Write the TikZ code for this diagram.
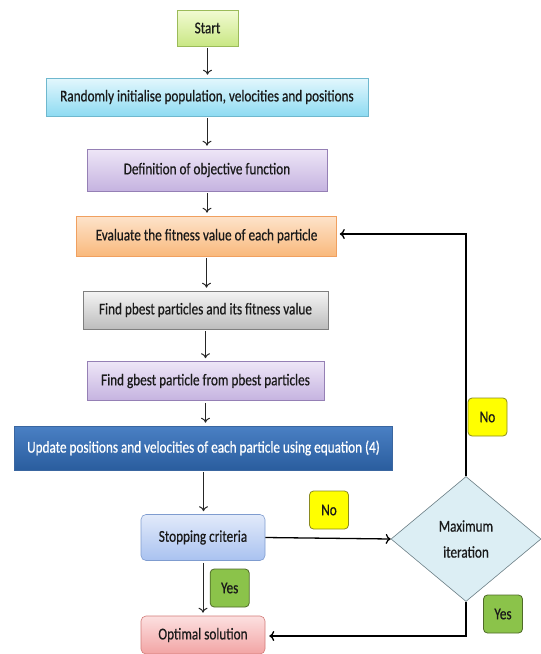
\documentclass[tikz,border=0pt]{standalone}
\usepackage{fontspec}
\setmainfont{Carlito}[FakeStretch=0.8,FakeBold=0.6]
\usetikzlibrary{shapes.geometric,arrows.meta,positioning}

\definecolor{grnL}{HTML}{F2FBD3}
\definecolor{grnD}{HTML}{C9E784}
\definecolor{grnB}{HTML}{9BBB59}
\definecolor{cyaL}{HTML}{E3F7FD}
\definecolor{cyaD}{HTML}{8EDBF2}
\definecolor{cyaB}{HTML}{6FB8CE}
\definecolor{purL}{HTML}{EEE6F7}
\definecolor{purD}{HTML}{C5B3E0}
\definecolor{purB}{HTML}{9580B5}
\definecolor{orgL}{HTML}{FDE3CB}
\definecolor{orgD}{HTML}{F9B97C}
\definecolor{orgB}{HTML}{F0A060}
\definecolor{gryL}{HTML}{F4F4F4}
\definecolor{gryD}{HTML}{BDBDBD}
\definecolor{gryB}{HTML}{7F7F7F}
\definecolor{bluL}{HTML}{4A80C4}
\definecolor{bluD}{HTML}{2A5D9E}
\definecolor{bluB}{HTML}{3A66A0}
\definecolor{lbuL}{HTML}{E2EAFA}
\definecolor{lbuD}{HTML}{A9C2F0}
\definecolor{lbuB}{HTML}{7F9CCF}
\definecolor{pnkL}{HTML}{FCE0E0}
\definecolor{pnkD}{HTML}{F2A4A4}
\definecolor{pnkB}{HTML}{D27A78}
\definecolor{dmdF}{HTML}{DCEEF4}
\definecolor{dmdB}{HTML}{6A7D84}
\definecolor{yesF}{HTML}{8BC34A}
\definecolor{yesB}{HTML}{4F6A28}
\definecolor{noF}{HTML}{FFFF00}
\definecolor{noB}{HTML}{8A8A20}
\definecolor{txt}{HTML}{1A1A1A}

\tikzset{
  stepbox/.style={draw, line width=0.6pt, inner sep=0pt, text=txt, font=\fontsize{16.5}{18}\selectfont},
  green box/.style={stepbox, top color=grnL, bottom color=grnD, draw=grnB},
  cyan box/.style={stepbox, top color=cyaL, bottom color=cyaD, draw=cyaB},
  purple box/.style={stepbox, top color=purL, bottom color=purD, draw=purB},
  orange box/.style={stepbox, top color=orgL, bottom color=orgD, draw=orgB},
  gray box/.style={stepbox, top color=gryL, bottom color=gryD, draw=gryB},
  blue box/.style={stepbox, top color=bluL, bottom color=bluD, draw=bluB, text=white},
  lblue box/.style={stepbox, rounded corners=5pt, top color=lbuL, bottom color=lbuD, draw=lbuB},
  pink box/.style={stepbox, rounded corners=5pt, top color=pnkL, bottom color=pnkD, draw=pnkB},
  tag/.style={draw, rounded corners=4pt, line width=0.8pt, inner sep=0pt, text=txt,
    minimum width=39pt, minimum height=38pt, font=\fontsize{16.5}{18}\selectfont},
  yes tag/.style={tag, fill=yesF, draw=yesB},
  no tag/.style={tag, fill=noF, draw=noB},
  flow/.style={-{To[length=5pt,width=9pt]}, draw=black!85, line width=1pt, shorten >=3pt, shorten <=2pt},
  loop/.style={-{To[length=5pt,width=10pt]}, line width=1.3pt}
}

\begin{document}
\begin{tikzpicture}[x=1pt,y=1pt]
\useasboundingbox (0,0) rectangle (541,-654);

\node (n0) at (207.5,-28) [green box, minimum width=61pt, minimum height=36pt] {Start};
\node (n1) at (207,-97) [cyan box, minimum width=322pt, minimum height=38pt] {Randomly initialise population, velocities and positions};
\node (n2) at (207,-170) [purple box, minimum width=240pt, minimum height=42pt] {Definition of objective function};
\node (n3) at (206.5,-236) [orange box, minimum width=260pt, minimum height=40pt] {Evaluate the fitness value of each particle};
\node (n4) at (205.5,-310) [gray box, minimum width=245pt, minimum height=38pt] {Find pbest particles and its fitness value};
\node (n5) at (205.5,-381) [purple box, minimum width=237pt, minimum height=39pt] {Find gbest particle from pbest particles};
\node (n6) at (203.5,-448) [blue box, minimum width=378pt, minimum height=44pt] {Update positions and velocities of each particle using equation (4)};
\node (n7) at (203,-537.5) [lblue box, minimum width=124pt, minimum height=46pt] {Stopping criteria};
\node (n8) at (203,-635) [pink box, minimum width=124pt, minimum height=38pt] {Optimal solution};

\node (d0) at (466,-539) [diamond, draw=dmdB, fill=dmdF, line width=0.6pt, inner sep=0pt,
  minimum width=150pt, minimum height=125pt, align=center, text=txt,
  font=\fontsize{16.5}{26}\selectfont] {Maximum\\iteration};

\node (t0) at (487.5,-417) [no tag] {No};
\node (t1) at (329,-510) [no tag] {No};
\node (t2) at (229.7,-588) [yes tag] {Yes};
\node (t3) at (503,-614) [yes tag] {Yes};

\coordinate (c0) at (466,-234);
\coordinate (c1) at (466,-636);

\foreach \a/\b in {n0/n1,n1/n2,n2/n3,n3/n4,n4/n5,n5/n6,n6/n7,n7/n8} {
\draw[flow] (\a.south) -- (\a.south |- \b.north);
};

\draw[loop] (n7.east) -- (d0.west);
\draw[loop] (d0.north) -- (c0) -- ([xshift=3pt]n3.east |- c0);
\draw[loop] (d0.south) -- (c1) -- ([xshift=4pt]n8.east |- c1);
\end{tikzpicture}
\end{document}
